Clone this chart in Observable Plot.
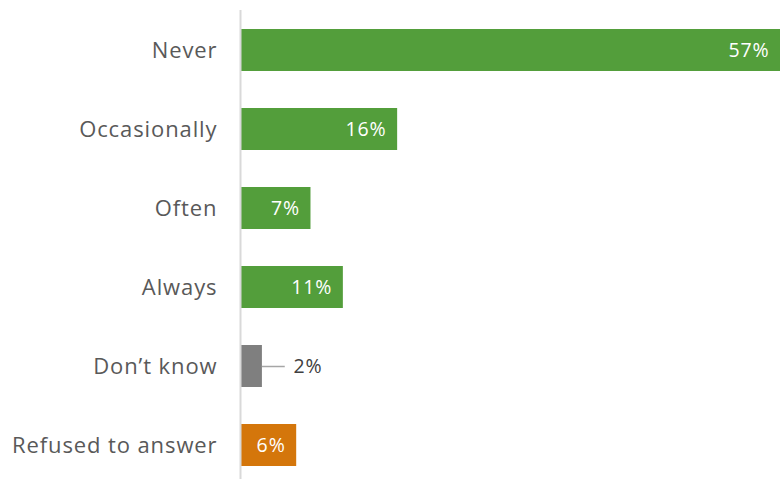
<!DOCTYPE html>
<html>
<head>
<meta charset="utf-8">
<script src="https://cdn.jsdelivr.net/npm/d3@7"></script>
<script src="https://cdn.jsdelivr.net/npm/@observablehq/plot@0.6"></script>
<style>
  html, body { margin: 0; padding: 0; background: #fff; }
  #chart svg { display: block; }
  #chart svg text { letter-spacing: 0.9px; }
</style>
</head>
<body>
<div id="chart"></div>
<script>
const categories = ["Never", "Occasionally", "Often", "Always", "Don\u2019t know", "Refused to answer"];
const values = [56.7, 16.5, 7.4, 10.8, 2.3, 5.9];
const labels = ["57%", "16%", "7%", "11%", "2%", "6%"];
const groups = ["main", "main", "main", "main", "dk", "refused"];

const data = categories.map((c, i) => ({category: c, value: values[i], label: labels[i], group: groups[i]}));
const inside = data.filter(d => d.group !== "dk");
const outside = data.filter(d => d.group === "dk");

const font = "'Open Sans', sans-serif";

const chart = Plot.plot({
  width: 780,
  height: 479,
  marginLeft: 240,
  marginRight: 0,
  marginTop: 10,
  marginBottom: 0,
  style: {fontFamily: font, background: "#fff"},
  x: {domain: [0, 56.7], axis: null},
  y: {domain: categories, range: [29, 466], paddingInner: 0.47, paddingOuter: 0, label: null},
  color: {domain: ["main", "dk", "refused"], range: ["#539E3B", "#7F7F7F", "#D4760B"]},
  marks: [
    Plot.barX(data, {x: "value", y: "category", fill: "group"}),
    Plot.ruleX([0], {stroke: "#d9d9d9", strokeWidth: 2}),
    Plot.axisY({tickSize: 0, tickPadding: 23, fontSize: 22, fill: "#595959", label: null}),
    Plot.text(inside, {x: "value", y: "category", text: "label", textAnchor: "end", dx: -11, fill: "white", fontSize: 19.5}),
    Plot.ruleY(outside, {x1: "value", x2: d => d.value + 2.4, y: "category", stroke: "#a6a6a6", strokeWidth: 1.5}),
    Plot.text(outside, {x: "value", y: "category", text: "label", textAnchor: "start", dx: 31, fill: "#404040", fontSize: 19.5})
  ]
});
document.getElementById("chart").appendChild(chart);
</script>
</body>
</html>
